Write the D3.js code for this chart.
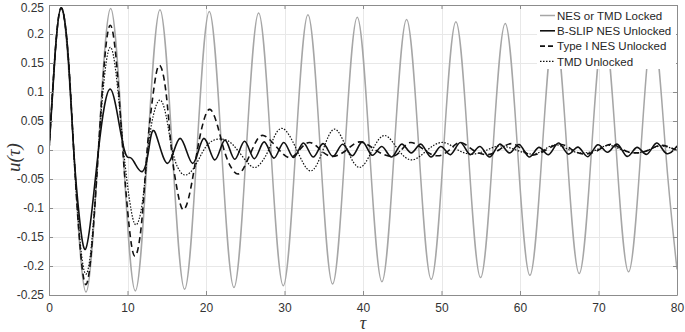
<!DOCTYPE html>
<html><head><meta charset="utf-8">
<script src="https://cdn.jsdelivr.net/npm/d3@7"></script>
<style>body{margin:0;background:#fff}svg{display:block}</style>
</head><body>
<script>
// ---- data ----
const xTicks = [0,10,20,30,40,50,60,70,80];
const yTicks = [0.25,0.2,0.15,0.1,0.05,0,-0.05,-0.1,-0.15,-0.2,-0.25];
const yTickLabels = ["0.25","0.2","0.15","0.1","0.05","0","-0.05","-0.1","-0.15","-0.2","-0.25"];
const seriesNames = ["NES or TMD Locked","B-SLIP NES Unlocked","Type I NES Unlocked","TMD Unlocked"];

const lockedNES = [[0,0],[1.571,0.245],[3.142,0],[4.712,-0.245],[6.283,0],[7.854,0.244],[9.425,0],[10.996,-0.243],
 [12.566,0],[14.137,0.242],[15.708,0],[17.279,-0.24],[18.850,0],[20.420,0.239],[21.991,0],[23.562,-0.237],
 [25.133,0],[26.704,0.236],[28.274,0],[29.845,-0.234],[31.416,0],[32.987,0.233],[34.558,0],[36.128,-0.231],
 [37.699,0],[39.270,0.229],[40.841,0],[42.412,-0.227],[43.982,0],[45.553,0.225],[47.124,0],[48.695,-0.223],
 [50.265,0],[51.836,0.221],[53.407,0],[54.978,-0.22],[56.549,0],[58.119,0.218],[59.690,0],[61.261,-0.216],
 [62.832,0],[64.403,0.215],[65.973,0],[67.544,-0.213],[69.115,0],[70.686,0.212],[72.257,0],[73.827,-0.21],
 [75.398,0],[76.969,0.209],[78.540,0],[80,-0.206]];

const bslipNES = [[0,0],[0.8,0.17],[1.55,0.245],[2.4,0.17],[3.15,0],[3.9,-0.12],[4.65,-0.171],[5.5,-0.1],[6.3,0],
 [7.05,0.075],[7.8,0.105],[8.6,0.07],[9.6,0],[10.3,-0.013],[10.9,-0.022],[11.9,-0.037],[12.7,0],[13.5,0.031],
 [15.1,-0.023],[16.7,0.02],[18.3,-0.023],[19.7,0.02],[21.1,-0.017],[22.4,0.017],[23.65,-0.016],[24.9,0.015],
 [26.15,-0.015],[27.4,0.014],[28.65,-0.014],[29.9,0.013],[31.15,-0.013],[32.4,0.012],[33.65,-0.012],[34.9,0.011],
 [36.15,-0.011],[37.4,0.01],[38.65,-0.01],[39.9,0.014],[41.15,-0.009],[42.4,0.006],[43.65,-0.012],[44.9,0.01],
 [46.15,-0.005],[47.4,0.01],[48.65,-0.012],[49.9,0.006],[51.15,-0.008],[52.4,0.013],[53.65,-0.008],[54.9,0.006],
 [56.15,-0.012],[57.4,0.01],[58.65,-0.005],[59.9,0.0095],[61.15,-0.012],[62.4,0.0045],[63.65,-0.008],[64.9,0.012],
 [66.15,-0.007],[67.4,0.005],[68.65,-0.0115],[69.9,0.009],[71.15,-0.004],[72.4,0.01],[73.65,-0.011],[74.9,0.0045],
 [76.15,-0.0075],[77.4,0.012],[78.65,-0.006],[79.9,0.005],[80,0.004]];

const typeINES = [[0,0],[0.8,0.17],[1.55,0.245],[2.4,0.17],[3.15,0],[3.95,-0.165],[4.72,-0.232],[5.5,-0.16],[6.3,0],
 [7.05,0.15],[7.8,0.215],[8.6,0.15],[9.4,0],[10.2,-0.13],[10.96,-0.183],[11.8,-0.125],[12.5,0],[13.3,0.1],[14.05,0.146],
 [14.9,0.1],[15.6,0],[16.35,-0.07],[17.1,-0.103],[18.0,-0.07],[18.9,0],[19.7,0.05],[20.5,0.07],[21.4,0.045],[22.3,0],
 [23.2,-0.03],[24.2,-0.041],[25.2,-0.02],[26.2,0.01],[27.3,0.025],[29.0,0.005],[30.6,-0.013],[31.9,0],[33.2,0.013],
 [34.6,0],[36.1,-0.011],[37.9,0],[39.6,0.014],[41.6,0],[43.6,-0.011],[44.9,0],[46.1,0.013],[47.8,0],[49.5,-0.01],
 [51,0],[52.4,0.013],[54,0],[55.8,-0.008],[57.3,0],[58.9,0.011],[60.3,0],[61.6,-0.009],[63.3,0],[65.1,0.01],[66.7,0],
 [68.2,-0.007],[70,0],[71.6,0.01],[73.2,0],[74.8,-0.005],[76.4,0],[78,0.008],[80,-0.001]];

const tmdUnlocked = [[0,0],[0.8,0.17],[1.55,0.245],[2.4,0.17],[3.15,0],[3.95,-0.155],[4.72,-0.214],[5.5,-0.15],[6.3,0],
 [7.05,0.125],[7.8,0.177],[8.6,0.125],[9.5,0],[10.3,-0.09],[11.05,-0.129],[11.9,-0.09],[12.6,0],[13.3,0.06],[14.1,0.086],
 [14.9,0.06],[15.7,0],[16.6,-0.035],[17.5,-0.043],[18.5,-0.03],[19.5,-0.005],[20.5,0.013],[21.7,0.019],[22.9,0.015],
 [24.0,0],[25.3,-0.022],[26.5,-0.029],[27.8,-0.005],[28.6,0.02],[29.8,0.037],[31.5,0.002],[33.3,-0.036],[34.9,0],
 [36.4,0.036],[38,0],[39.6,-0.03],[41.2,0],[42.8,0.025],[44.5,0],[46.3,-0.017],[48.2,0],[50.2,0.013],[52.1,0],
 [54,-0.007],[55.8,0],[57.5,0.007],[59.5,0],[61.5,-0.007],[63,0],[64.6,0.009],[66.3,0],[68.0,-0.005],[69.7,0],
 [71.3,0.008],[73,0],[74.7,-0.005],[76.4,0],[78,0.007],[80,-0.001]];

// ---- drawing ----
const W = 685, H = 332;
const svg = d3.select("body").append("svg").attr("width", W).attr("height", H)
  .style("font-family", "'Liberation Sans', Arial, sans-serif");

const x = d3.scaleLinear().domain([0, 80]).range([49, 677]);
const y = d3.scaleLinear().domain([-0.25, 0.25]).range([295, 5]);

// grid
const grid = svg.append("g").attr("stroke", "#e8e8e8").attr("stroke-width", 1);
grid.selectAll(".gx").data(xTicks).join("line")
  .attr("x1", d => Math.round(x(d)) + 0.5).attr("x2", d => Math.round(x(d)) + 0.5)
  .attr("y1", y(0.25)).attr("y2", y(-0.25));
grid.selectAll(".gy").data(yTicks).join("line")
  .attr("y1", d => Math.round(y(d)) + 0.5).attr("y2", d => Math.round(y(d)) + 0.5)
  .attr("x1", x(0)).attr("x2", x(80));

svg.append("clipPath").attr("id", "clip").append("rect")
  .attr("x", x(0)).attr("y", y(0.25) - 1).attr("width", x(80) - x(0)).attr("height", y(-0.25) - y(0.25) + 2);

const line = d3.line().x(d => x(d[0])).y(d => y(d[1])).curve(d3.curveNatural);
const styles = [
  {data: lockedNES, stroke: "#a6a6a6", w: 1.5, dash: null},
  {data: bslipNES, stroke: "#111", w: 1.6, dash: null},
  {data: typeINES, stroke: "#111", w: 1.6, dash: "6,4"},
  {data: tmdUnlocked, stroke: "#111", w: 1.2, dash: "1.5,1.5"}
];
const plot = svg.append("g").attr("clip-path", "url(#clip)");
styles.forEach(s => {
  plot.append("path").datum(s.data).attr("d", line)
    .attr("fill", "none").attr("stroke", s.stroke).attr("stroke-width", s.w)
    .attr("stroke-dasharray", s.dash);
});

// axes
const axisColor = "#8c8c8c";
const yAxis = svg.append("g").attr("transform", `translate(${x(0)},0)`)
  .call(d3.axisLeft(y).tickValues(yTicks).tickFormat((d, i) => yTickLabels[i]).tickSizeInner(-4).tickSizeOuter(0).tickPadding(5));
const xAxis = svg.append("g").attr("transform", `translate(0,${y(-0.25)})`)
  .call(d3.axisBottom(x).tickValues(xTicks).tickSizeInner(-4).tickSizeOuter(0).tickPadding(8));
const yAxisR = svg.append("g").attr("transform", `translate(${x(80)},0)`)
  .call(d3.axisRight(y).tickValues(yTicks).tickFormat("").tickSizeInner(-4).tickSizeOuter(0));
const xAxisT = svg.append("g").attr("transform", `translate(0,${y(0.25)})`)
  .call(d3.axisTop(x).tickValues(xTicks).tickFormat("").tickSizeInner(-4).tickSizeOuter(0));
[yAxis, xAxis, yAxisR, xAxisT].forEach(g => {
  g.selectAll("path,line").attr("stroke", axisColor);
  g.selectAll("text").attr("fill", "#333").style("font-size", "12px").style("font-family", "'Liberation Sans', Arial, sans-serif");
});
// keep the top tick label inside the picture
yAxis.selectAll(".tick").filter(d => d === 0.25).select("text").attr("dy", "0.5em");

// axis titles
svg.append("text").attr("x", x(40)).attr("y", 329).attr("text-anchor", "middle")
  .style("font-family", "'Liberation Serif','Times New Roman',serif").style("font-style", "italic")
  .style("font-size", "18px").attr("fill", "#333").text("τ");
svg.append("text").attr("transform", `translate(20,${y(-0.013)}) rotate(-90)`).attr("text-anchor", "middle")
  .style("font-family", "'Liberation Serif','Times New Roman',serif").style("font-style", "italic")
  .style("font-size", "19px").attr("fill", "#333").text("u(τ)");

// legend
const lg = svg.append("g");
lg.append("rect").attr("x", 537).attr("y", 6).attr("width", 139).attr("height", 63).attr("fill", "#fff");
styles.forEach((s, i) => {
  const yy = 15.5 + i * 15.3;
  lg.append("line").attr("x1", 540).attr("x2", 555).attr("y1", yy).attr("y2", yy)
    .attr("stroke", s.stroke).attr("stroke-width", s.w).attr("stroke-dasharray", s.dash === "6,4" ? "5,3" : s.dash);
  lg.append("text").attr("x", 557).attr("y", yy + 4.2).style("font-size", "11.5px").attr("fill", "#262626")
    .text(seriesNames[i]);
});
</script>
</body></html>
